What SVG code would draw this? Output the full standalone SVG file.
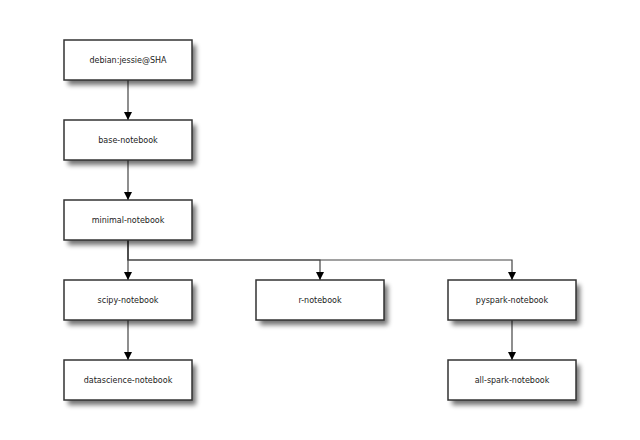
<svg xmlns="http://www.w3.org/2000/svg" width="640" height="440" viewBox="0 0 640 440">
<style>
.box{fill:#fff;stroke:#333;stroke-width:1.5}
.sh{fill:#000;opacity:0.55;filter:url(#blur)}
.lbl{font-family:"DejaVu Sans",sans-serif;font-size:8px;fill:#222;text-anchor:middle;dominant-baseline:central}
.edge{fill:none;stroke:#444;stroke-width:1.2;marker-end:url(#arr)}
</style>
<defs>
<filter id="blur" x="-20%" y="-50%" width="140%" height="200%"><feGaussianBlur stdDeviation="2.5"/></filter>
<marker id="arr" viewBox="0 0 10 10" refX="10" refY="5" markerWidth="8" markerHeight="8" markerUnits="userSpaceOnUse" orient="auto"><path d="M0,0 L10,5 L0,10 Z" fill="#000"/></marker>
</defs>
<rect width="640" height="440" fill="#fff"/>
<g id="connectors">
<path class="edge" d="M128,80 V120"/>
<path class="edge" d="M128,160 V200"/>
<path class="edge" d="M128,240 V280"/>
<path class="edge" d="M128,240 V260 H320 V280"/>
<path class="edge" d="M128,240 V260 H512 V280"/>
<path class="edge" d="M128,320 V360"/>
<path class="edge" d="M512,320 V360"/>
</g>
<g id="debian"><rect class="sh" x="68" y="45" width="128" height="40"/><rect class="box" x="64" y="40" width="128" height="40"/><text class="lbl" x="128" y="60">debian:jessie@SHA</text></g>
<g id="base-notebook"><rect class="sh" x="68" y="125" width="128" height="40"/><rect class="box" x="64" y="120" width="128" height="40"/><text class="lbl" x="128" y="140">base-notebook</text></g>
<g id="minimal-notebook"><rect class="sh" x="68" y="205" width="128" height="40"/><rect class="box" x="64" y="200" width="128" height="40"/><text class="lbl" x="128" y="220">minimal-notebook</text></g>
<g id="scipy-notebook"><rect class="sh" x="68" y="285" width="128" height="40"/><rect class="box" x="64" y="280" width="128" height="40"/><text class="lbl" x="128" y="300">scipy-notebook</text></g>
<g id="r-notebook"><rect class="sh" x="260" y="285" width="128" height="40"/><rect class="box" x="256" y="280" width="128" height="40"/><text class="lbl" x="320" y="300">r-notebook</text></g>
<g id="pyspark-notebook"><rect class="sh" x="452" y="285" width="128" height="40"/><rect class="box" x="448" y="280" width="128" height="40"/><text class="lbl" x="512" y="300">pyspark-notebook</text></g>
<g id="datascience-notebook"><rect class="sh" x="68" y="365" width="128" height="40"/><rect class="box" x="64" y="360" width="128" height="40"/><text class="lbl" x="128" y="380">datascience-notebook</text></g>
<g id="all-spark-notebook"><rect class="sh" x="452" y="365" width="128" height="40"/><rect class="box" x="448" y="360" width="128" height="40"/><text class="lbl" x="512" y="380">all-spark-notebook</text></g>
</svg>
